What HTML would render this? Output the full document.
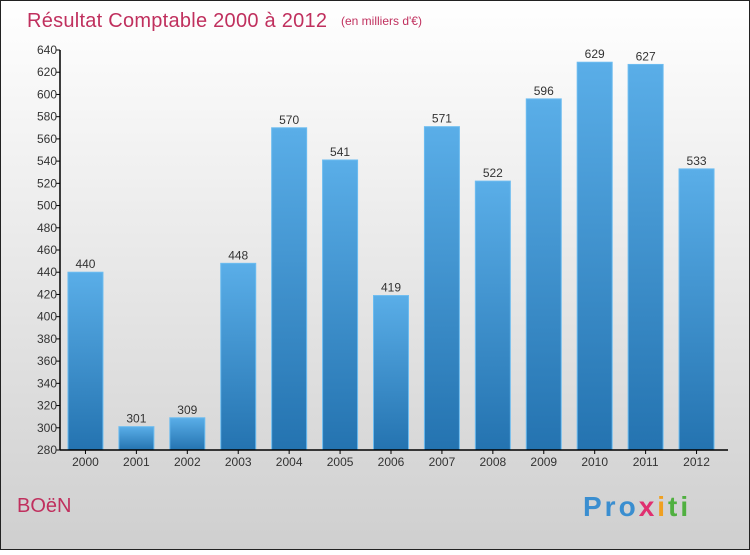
<!DOCTYPE html>
<html><head><meta charset="utf-8"><style>
html,body{margin:0;padding:0}
body{width:750px;height:550px;overflow:hidden;font-family:"Liberation Sans",sans-serif}
</style></head><body>
<svg width="750" height="550" xmlns="http://www.w3.org/2000/svg" id="svg">
<defs>
<linearGradient id="bg" x1="0" y1="0" x2="0" y2="1"><stop offset="0" stop-color="#ffffff"/><stop offset="1" stop-color="#cfcfcf"/></linearGradient>
<linearGradient id="bar" x1="0" y1="0" x2="0" y2="1"><stop offset="0" stop-color="#5aaee8"/><stop offset="1" stop-color="#2473b0"/></linearGradient>
</defs>
<rect x="0.5" y="0.5" width="749" height="549" fill="url(#bg)" stroke="#222" stroke-width="1"/>
<text x="27" y="27" font-size="20" fill="#c0305e" textLength="300">Résultat Comptable 2000 à 2012</text>
<text x="341" y="25" font-size="12" fill="#c0305e">(en milliers d'€)</text>
<text x="17" y="512" font-size="20" fill="#c0305e">BOëN</text>
<g font-size="28" font-weight="bold">
<text x="583" y="516" letter-spacing="3"><tspan fill="#3a8ed0">Pro</tspan><tspan fill="#e03070">x</tspan><tspan fill="#f0a020">i</tspan><tspan fill="#50b040">ti</tspan></text>
</g>
<g id="plot"></g>
</svg>
<script>
const categories=["2000","2001","2002","2003","2004","2005","2006","2007","2008","2009","2010","2011","2012"];
const values=[440,301,309,448,570,541,419,571,522,596,629,627,533];
const yTicks=[280,300,320,340,360,380,400,420,440,460,480,500,520,540,560,580,600,620,640];
const x0=60,x1=722,yTop=50,yBot=450,vMin=280,vMax=640;
const slot=(x1-x0)/categories.length;
function y(v){return yBot-(v-vMin)/(vMax-vMin)*(yBot-yTop);}
function xc(i){return x0+slot*(i+0.5);}
const NS="http://www.w3.org/2000/svg";
const g=document.getElementById('plot');
function el(t,a){const e=document.createElementNS(NS,t);for(const k in a)e.setAttribute(k,a[k]);g.appendChild(e);return e;}
categories.forEach((c,i)=>{
 const bw=35,v=values[i];
 const r=el('rect',{x:xc(i)-bw/2,y:y(v),width:bw,height:yBot-y(v),fill:'url(#bar)',stroke:'#6cbcf0','stroke-width':1});
 
 
 const t=el('text',{x:xc(i),y:y(v)-4,'text-anchor':'middle','font-size':12,fill:'#333'});
 t.textContent=v;
 
 
 const xl=el('text',{x:xc(i),y:466,'text-anchor':'middle','font-size':12,fill:'#333'});
 xl.textContent=c;
 
 
 const tk=el('line',{x1:xc(i),x2:xc(i),y1:yBot,y2:yBot+4,stroke:'#000'});
 
 
});
yTicks.forEach(v=>{
 const l=el('line',{x1:x0-4,x2:x0,y1:y(v),y2:y(v),stroke:'#000'});
 
 
 const t=el('text',{x:x0-3,y:y(v)+4,'text-anchor':'end','font-size':12,fill:'#333'});
 t.textContent=v;
 
 
});
const ya=el('line',{x1:x0,x2:x0,y1:yTop,y2:yBot,stroke:'#000','stroke-width':1.5});


const xa=el('line',{x1:x0,x2:x1+6,y1:yBot,y2:yBot,stroke:'#000','stroke-width':1.5});


</script>
</body></html>
